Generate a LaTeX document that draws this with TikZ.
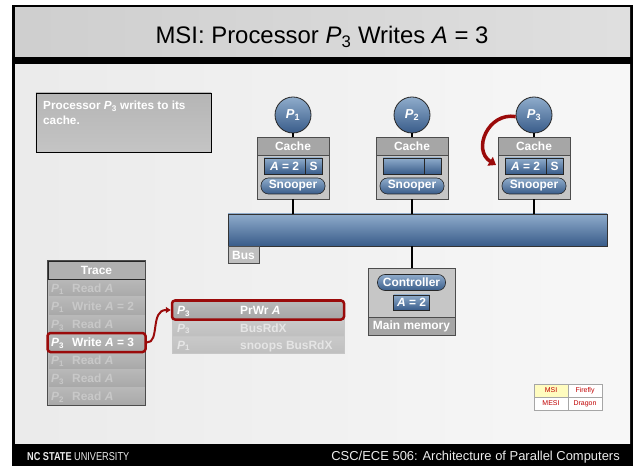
\documentclass[tikz,border=0pt]{standalone}
\usepackage{fontspec}
\setmainfont{Liberation Sans}
\newfontfamily\narrowfont[FakeStretch=0.80]{Liberation Sans}
\usetikzlibrary{arrows.meta}
\definecolor{blueT}{HTML}{8FACCB}
\definecolor{blueB}{HTML}{395C8A}
\definecolor{darkred}{HTML}{9A0A0A}
\definecolor{legred}{HTML}{C00000}
\definecolor{fadetxt}{HTML}{C8C8C8}
\definecolor{hdrgray}{HTML}{A6A6A6}
\definecolor{bodygray}{HTML}{C6C6C6}
\newcommand\fsz[1]{\fontsize{#1}{#1}\selectfont}
\tikzset{
  lbl/.style={font=\bfseries\fsz{12}, text=white},
  cellbox/.style={draw=black!85, line width=0.6bp, top color=blueT, bottom color=blueB, inner sep=0pt, lbl},
  pill/.style={cellbox, rounded corners=7.5bp, minimum height=16bp},
  procnode/.style={circle, draw=black!85, line width=0.8bp, top color=blueT, bottom color=blueB, minimum size=36bp, inner sep=0pt, text=white, font=\bfseries\fsz{13}},
  cachebox/.style={draw=black!70, line width=0.8bp, fill=bodygray, minimum width=72bp, minimum height=62bp, inner sep=0pt},
  hdr/.style={draw=black!70, line width=0.8bp, fill=hdrgray, inner sep=0pt, lbl},
  link/.style={line width=2bp, black},
  redarrow/.style={darkred, line width=3.5bp, -{Triangle[length=7bp,width=10bp]}},
  trrow/.style={draw=gray!55, line width=0.5bp, top color=gray!55, bottom color=gray!68, minimum width=97bp, minimum height=18bp, inner sep=0pt},
  dtrow/.style={draw=gray!45, line width=0.5bp, top color=gray!42, bottom color=gray!50, minimum width=172bp, inner sep=0pt},
  fadet/.style={font=\bfseries\fsz{12}, text=fadetxt, inner sep=0pt},
  brightt/.style={font=\bfseries\fsz{12}, text=white, inner sep=0pt},
  legcell/.style={draw=gray!70, line width=0.5bp, minimum width=34bp, minimum height=13bp, inner sep=0pt, font=\fsz{7}, text=legred},
}
\begin{document}
\begin{tikzpicture}[x=1bp,y=-1bp]
\useasboundingbox (0,0) rectangle (636,466);
\fill[white] (0,0) rectangle (636,466);
% frame
\fill[black] (12,5) rectangle (633,466);
\shade[left color=gray!38, right color=gray!25] (15,8) rectangle (630,57);
\shade[left color=gray!16, right color=gray!6] (15,65) rectangle (630,443);
% title and footer
\node[font=\fsz{24}, text=black, inner sep=0pt] (title) at (322,37) {MSI: Processor \textit{P}\textsubscript{3} Writes \textit{A} = 3};
\node[font=\narrowfont\fsz{11.5}, text=gray!15, anchor=west, inner sep=0pt] (foot1) at (27,457) {\textbf{NC STATE} UNIVERSITY};
\node[font=\fsz{13}, text=gray!15, anchor=east, inner sep=0pt] (foot2) at (620,457) {CSC/ECE 506: Architecture of Parallel Computers};
% description
\node[draw=black, line width=0.8bp, top color=gray!58, bottom color=gray!46, minimum width=175bp, minimum height=59bp, inner sep=0pt] (desc) at (123.5,122.5) {};
\node[font=\bfseries\fsz{11.8}, text=white, anchor=north west, align=left, inner sep=0pt] (desctxt) at (43,101) {Processor \textit{P}\textsubscript{3} writes to its\\[3.5bp]cache.};
% bus
\node[draw=black!80, line width=0.8bp, top color=blueT, bottom color=blueB, minimum width=379bp, minimum height=32bp, inner sep=0pt] (bus) at (417.5,230) {};
\node[hdr, fill=gray!50, minimum width=31bp, minimum height=17bp, anchor=north west] (buslbl) at (bus.south west) {Bus};
% processors and caches
\foreach \i/\x in {1/293,2/412,3/534}{
  \node[procnode] (p\i) at (\x,115) {\textit{P}\textsubscript{\i}};
  \node[cachebox] (c\i) at (\x,168) {};
  \node[hdr, minimum width=72bp, minimum height=18bp] (c\i h) at (\x,146) {Cache};
  \node[pill, minimum width=64bp] (s\i) at (\x,186) {Snooper};
  \draw[link] (p\i) -- (c\i h);
  \draw[link] (c\i.south) -- (c\i.south |- bus.north);
}
\node[cellbox, minimum width=41bp, minimum height=16bp] (c1a) at (284.5,166) {\textit{A} = 2};
\node[cellbox, minimum width=17bp, minimum height=16bp] (c1s) at (313.5,166) {S};
\node[cellbox, minimum width=41bp, minimum height=16bp] (c2a) at (403.5,166) {};
\node[cellbox, minimum width=17bp, minimum height=16bp] (c2s) at (432.5,166) {};
\node[cellbox, minimum width=41bp, minimum height=16bp] (c3a) at (525.5,166) {\textit{A} = 2};
\node[cellbox, minimum width=17bp, minimum height=16bp] (c3s) at (554.5,166) {S};
\coordinate (c3in) at (496,165);
\draw[redarrow] (p3.185) .. controls (488,112) and (472,150) .. (c3in);
% memory
\node[cachebox, minimum width=87bp, minimum height=67bp] (mem) at (411.5,301.5) {};
\node[pill, minimum width=68bp] (ctrl) at (411.5,282.5) {Controller};
\node[cellbox, minimum width=36bp, minimum height=15bp] (mema) at (411.5,302.5) {\textit{A} = 2};
\node[hdr, minimum width=87bp, minimum height=18bp] (memlbl) at (411.5,326) {Main memory};
\draw[link] (mem.north) -- (mem.north |- bus.south);
% trace table
\foreach \i/\p/\a in {1/1/Read \textit{A},2/1/Write \textit{A} = 2,3/3/Read \textit{A},5/1/Read \textit{A},6/3/Read \textit{A},7/2/Read \textit{A}}{
  \node[trrow] (tr\i) at (96.5,279+18*\i-9) {};
  \node[fadet, anchor=base west] (tp\i) at (51,279+18*\i-4.5) {\textit{P}\textsubscript{\p}};
  \node[fadet, anchor=base west] (ta\i) at (72,279+18*\i-4.5) {\a};
}
\node[trrow] (tr4) at (96.5,342) {};
\node[brightt, anchor=base west] (tp4) at (51,346.5) {\textit{P}\textsubscript{3}};
\node[brightt, anchor=base west] (ta4) at (72,346.5) {Write \textit{A} = 3};
\node[hdr, draw=black!85, fill=gray!62, minimum width=97bp, minimum height=18bp] (trh) at (96.5,270) {Trace};
\draw[black!70, line width=0.8bp] (trh.north west) rectangle (96.5+48.5,405);
\node[draw=darkred, line width=2.5bp, rounded corners=3bp, minimum width=98bp, minimum height=19bp, inner sep=0pt] (hl) at (96.5,342.5) {};
% detail table
\node[dtrow, top color=gray!55, bottom color=gray!70, minimum height=18bp] (dt1) at (258,310) {};
\node[dtrow, minimum height=17bp] (dt2) at (258,327.5) {};
\node[dtrow, minimum height=17bp] (dt3) at (258,344.5) {};
\node[brightt, anchor=base west] (d1p) at (177,314.5) {\textit{P}\textsubscript{3}};
\node[brightt, anchor=base west] (d1a) at (240,314.5) {PrWr \textit{A}};
\node[fadet, text=gray!20, anchor=base west] (d2p) at (177,332) {\textit{P}\textsubscript{3}};
\node[fadet, text=gray!20, anchor=base west] (d2a) at (240,332) {BusRdX};
\node[fadet, text=gray!20, anchor=base west] (d3p) at (177,349) {\textit{P}\textsubscript{1}};
\node[fadet, text=gray!20, anchor=base west] (d3a) at (240,349) {snoops BusRdX};
\node[draw=darkred, line width=2.5bp, rounded corners=3bp, minimum width=172bp, minimum height=19bp, inner sep=0pt] (dhl) at (258,310) {};
\draw[darkred, line width=2bp, -{Triangle[length=5bp,width=6bp]}] (hl.east) .. controls (160,343) and (150,310) .. (dhl.west);
% legend
\node[legcell, fill=yellow!25] (l1) at (551,390.5) {MSI};
\node[legcell, fill=white] (l2) at (585,390.5) {Firefly};
\node[legcell, fill=white] (l3) at (551,403.5) {MESI};
\node[legcell, fill=white] (l4) at (585,403.5) {Dragon};
\end{tikzpicture}
\end{document}
